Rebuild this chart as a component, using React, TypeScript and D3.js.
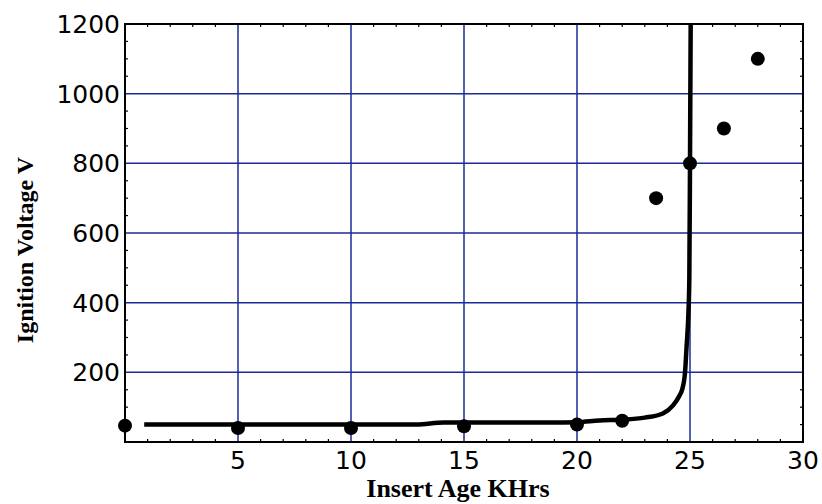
import React from 'react';
import * as d3 from 'd3';

// measured points (KHrs, volts)
const pointAge = [0, 5, 10, 15, 20, 22, 23.5, 25, 26.5, 28];
const pointVolt = [47, 40, 40, 45, 50, 61, 700, 800, 900, 1100];

// fitted curve
const fitAge = [0.85, 12.9, 14.1, 18.8, 20, 21, 22, 23, 23.8, 24.25, 24.55, 24.65, 24.78, 24.85, 24.93, 24.97, 25.0, 25.03];
const fitVolt = [50, 50, 56, 56, 57, 62, 64, 70, 82, 105, 135, 150, 200, 275, 370, 470, 800, 1200];

const xTicks = [5, 10, 15, 20, 25, 30];
const yTicks = [200, 400, 600, 800, 1000, 1200];

const W = 822;
const H = 504;
const margin = { top: 24, right: 19, bottom: 62, left: 125 };

const App = () => {
   const x = d3.scaleLinear().domain([0, 30]).range([margin.left, W - margin.right]);
   const y = d3.scaleLinear().domain([0, 1200]).range([H - margin.bottom, margin.top]);

   const x0 = x(0), x1 = x(30), y0 = y(0), y1 = y(1200);

   const line = d3.line<number>()
      .x((d, i) => x(fitAge[i]))
      .y((d, i) => y(fitVolt[i]))
      .curve(d3.curveMonotoneX);

   const minorX = d3.range(1, 30).filter(v => v % 5 !== 0);
   const minorY = d3.range(50, 1200, 50).filter(v => v % 200 !== 0);

   const grid = '#1a2a96';
   const tickFont = 'DejaVu Sans, sans-serif';
   const titleFont = '"Liberation Serif", "Times New Roman", serif';

   return (
      <svg width={W} height={H} style={{ position: 'absolute', left: 0, top: 0, background: '#fff' }}>
         {/* grid */}
         {xTicks.filter(v => v < 30).map(v => (
            <line key={'gx' + v} x1={x(v)} x2={x(v)} y1={y0} y2={y1} stroke={grid} strokeWidth={1.5} />
         ))}
         {yTicks.filter(v => v < 1200).map(v => (
            <line key={'gy' + v} x1={x0} x2={x1} y1={y(v)} y2={y(v)} stroke={grid} strokeWidth={1.5} />
         ))}

         {/* minor ticks on all four sides, pointing inward */}
         {minorX.map(v => (
            <g key={'mx' + v}>
               <line x1={x(v)} x2={x(v)} y1={y0} y2={y0 - 3} stroke="#000" strokeWidth={1.2} />
               <line x1={x(v)} x2={x(v)} y1={y1} y2={y1 + 3} stroke="#000" strokeWidth={1.2} />
            </g>
         ))}
         {minorY.map(v => (
            <g key={'my' + v}>
               <line x1={x0} x2={x0 + 3} y1={y(v)} y2={y(v)} stroke="#000" strokeWidth={1.2} />
               <line x1={x1} x2={x1 - 3} y1={y(v)} y2={y(v)} stroke="#000" strokeWidth={1.2} />
            </g>
         ))}

         {/* frame */}
         <rect x={x0} y={y1} width={x1 - x0} height={y0 - y1} fill="none" stroke="#000" strokeWidth={2} />

         {/* fitted curve */}
         <path d={line(fitVolt) || ''} fill="none" stroke="#000" strokeWidth={4.5} strokeLinejoin="round" />

         {/* points */}
         {pointAge.map((a, i) => (
            <circle key={'p' + i} cx={x(a)} cy={y(pointVolt[i])} r={7} fill="#000" />
         ))}

         {/* tick labels */}
         {xTicks.map(v => (
            <text key={'tx' + v} x={x(v)} y={y0 + 27} textAnchor="middle" fontFamily={tickFont} fontSize={25} fill="#000">{v}</text>
         ))}
         {yTicks.map(v => (
            <text key={'ty' + v} x={x0 - 5} y={y(v) + 9} textAnchor="end" fontFamily={tickFont} fontSize={25} fill="#000">{v}</text>
         ))}

         {/* axis titles */}
         <text x={(x0 + x1) / 2 - 6} y={497} textAnchor="middle" fontFamily={titleFont} fontWeight="bold" fontSize={26} fill="#000">Insert Age KHrs</text>
         <text transform={`translate(33, ${(y0 + y1) / 2 + 17}) rotate(-90)`} textAnchor="middle" fontFamily={titleFont} fontWeight="bold" fontSize={24} fill="#000">Ignition Voltage V</text>
      </svg>
   );
};

export default App;
